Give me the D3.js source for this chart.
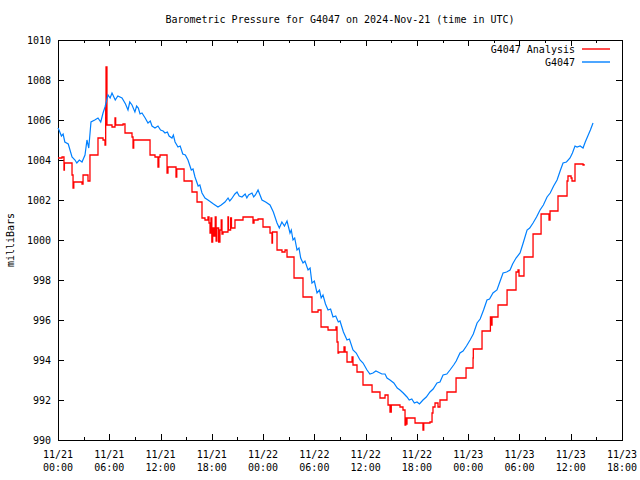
<!DOCTYPE html>
<html>
<head>
  <meta charset="utf-8">
  <script src="https://d3js.org/d3.v7.min.js"></script>
  <style>
    body { margin: 0; background: #fff; }
    text { font-family: "DejaVu Sans Mono", monospace; font-size: 10px; fill: #000; }
  </style>
</head>
<body>
<script>
// [hours since 2024-11-21 00:00 UTC, pressure in mb]
var bluePoints = [
  [0, 1005.6], [0.12, 1005.5], [0.4, 1005.2], [0.6, 1005.3], [0.8, 1004.9], [1.2, 1004.8], [1.64, 1004.15], [1.99, 1004.0],
  [2.2, 1003.85], [2.5, 1004.0], [2.81, 1003.9], [3.16, 1004.25], [3.39, 1005.0], [3.6, 1004.6], [3.86, 1005.9], [4.3, 1006.0],
  [4.68, 1006.1], [5.0, 1005.9], [5.27, 1006.35], [5.5, 1006.65], [5.85, 1007.25], [6.1, 1007.1], [6.32, 1007.35], [6.7, 1007.0],
  [7.0, 1007.2], [7.49, 1007.1], [7.9, 1006.8], [8.19, 1006.5], [8.4, 1006.9], [8.66, 1006.75], [9.0, 1006.4], [9.2, 1006.7],
  [9.4, 1006.6], [9.6, 1006.3], [9.83, 1006.35], [10.2, 1006.1], [10.53, 1005.85], [10.8, 1005.95], [11.0, 1005.7], [11.35, 1005.6],
  [11.7, 1005.7], [12.0, 1005.5], [12.3, 1005.45], [12.52, 1005.35], [12.8, 1005.4], [13.0, 1005.2], [13.34, 1005.1], [13.5, 1005.25],
  [13.7, 1004.9], [14.04, 1004.65], [14.3, 1004.7], [14.6, 1004.3], [14.9, 1004.25], [15.21, 1004.0], [15.6, 1003.5], [15.8, 1003.55],
  [16.03, 1003.15], [16.4, 1002.7], [16.6, 1002.75], [16.85, 1002.35], [17.2, 1002.1], [17.55, 1002.0], [18.2, 1001.8], [18.72, 1001.65],
  [19.1, 1001.75], [19.54, 1001.9], [19.9, 1002.1], [20.1, 1001.95], [20.3, 1002.05], [20.7, 1002.3], [20.95, 1002.4], [21.2, 1002.2],
  [21.53, 1002.15], [21.9, 1002.3], [22.1, 1002.1], [22.3, 1002.25], [22.7, 1002.35], [22.9, 1002.15], [23.1, 1002.25], [23.41, 1002.5],
  [23.87, 1002.0], [24.3, 1001.9], [24.81, 1001.75], [25.2, 1001.4], [25.63, 1000.85], [25.9, 1000.6], [26.2, 1000.9], [26.5, 1000.7],
  [26.8, 1000.95], [27.15, 1000.35], [27.3, 1000.5], [27.5, 1000.0], [27.7, 1000.1], [27.97, 999.5], [28.2, 999.6], [28.4, 999.1],
  [28.67, 998.85], [28.9, 998.95], [29.26, 998.5], [29.5, 998.6], [29.72, 997.85], [30.0, 997.95], [30.31, 997.35], [30.6, 997.5],
  [30.8, 997.1], [31.01, 997.25], [31.3, 996.8], [31.6, 996.5], [31.9, 996.55], [32.18, 996.15], [32.5, 996.2], [32.8, 995.9],
  [33.0, 995.95], [33.4, 995.4], [33.82, 995.0], [34.1, 995.05], [34.52, 994.5], [34.9, 994.35], [35.34, 994.0], [35.7, 993.85],
  [36.16, 993.5], [36.5, 993.3], [36.86, 993.35], [37.2, 993.45], [37.45, 993.4], [37.9, 993.3], [38.27, 993.3], [38.5, 993.1],
  [38.85, 993.0], [39.3, 992.85], [39.7, 992.6], [40.02, 992.5], [40.4, 992.35], [40.84, 992.15], [41.1, 992.0], [41.4, 992.05],
  [41.7, 991.85], [42.01, 991.9], [42.3, 991.8], [42.71, 992.0], [43.1, 992.15], [43.53, 992.4], [43.9, 992.55], [44.35, 992.85],
  [44.7, 992.9], [45.06, 993.25], [45.5, 993.3], [45.87, 993.5], [46.3, 993.75], [46.6, 993.95], [47.04, 994.35], [47.4, 994.45],
  [47.8, 994.7], [48.22, 995.0], [48.6, 995.3], [49.04, 995.85], [49.4, 996.05], [49.8, 996.5], [50.2, 997.0], [50.5, 997.05],
  [50.9, 997.35], [51.37, 997.5], [51.7, 997.9], [52.08, 998.35], [52.5, 998.4], [52.9, 998.5], [53.2, 998.8], [53.6, 999.1],
  [54.07, 999.35], [54.4, 999.8], [54.89, 1000.5], [55.2, 1000.6], [55.59, 1000.85], [56.0, 1001.15], [56.41, 1001.5], [56.8, 1001.75],
  [57.23, 1002.15], [57.6, 1002.35], [58.0, 1002.7], [58.4, 1003.0], [58.8, 1003.5], [59.1, 1003.85], [59.5, 1003.9], [59.92, 1004.1],
  [60.2, 1004.35], [60.5, 1004.7], [60.74, 1004.65], [61.1, 1004.7], [61.44, 1004.6], [61.7, 1004.9], [62.0, 1005.2], [62.3, 1005.5],
  [62.61, 1005.85]
];

var redPoints = [
  [0, 1004.1], [0.47, 1004.15], [0.7, 1003.5], [0.75, 1003.85], [1.64, 1003.25], [1.76, 1002.6], [1.85, 1002.9], [2.81, 1002.8],
  [2.93, 1003.25], [3.51, 1002.95], [3.74, 1004.25], [4.68, 1005.1], [5.27, 1005.0], [5.5, 1004.75], [5.58, 1006.65], [5.62, 1008.65],
  [5.73, 1005.75], [6.32, 1005.65], [6.67, 1006.1], [6.75, 1005.75], [7.61, 1005.8], [7.84, 1005.35], [8.66, 1005.15], [8.78, 1004.6],
  [8.86, 1005.0], [10.77, 1004.25], [11.35, 1004.15], [11.7, 1003.65], [11.8, 1004.15], [11.94, 1004.25], [12.76, 1003.35], [12.87, 1003.65],
  [13.81, 1003.15], [13.9, 1003.55], [14.75, 1002.95], [15.68, 1002.4], [16.27, 1001.9], [16.85, 1001.1], [17.2, 1001.0], [17.55, 1001.15],
  [17.67, 1000.85], [17.79, 1000.35], [17.9, 1001.1], [18.0, 999.9], [18.1, 1000.6], [18.25, 1000.2], [18.4, 1001.15], [18.5, 999.95],
  [18.6, 1000.6], [18.8, 999.9], [18.95, 1000.5], [19.1, 1001.0], [19.19, 1000.3], [19.31, 1000.4], [19.89, 1001.15], [19.95, 1000.5],
  [20.2, 1001.1], [20.3, 1000.6], [20.71, 1001.0], [21.65, 1001.15], [22.82, 1000.85], [22.94, 1001.0], [23.41, 1001.05], [23.99, 1000.65],
  [24.81, 1000.35], [25.04, 999.85], [25.1, 1000.4], [25.63, 999.5], [26.21, 999.4], [26.57, 999.5], [26.8, 999.15], [27.62, 998.1],
  [28.67, 997.15], [29.72, 996.4], [30.43, 996.5], [30.78, 995.65], [31.6, 995.5], [32.53, 995.65], [32.65, 994.9], [32.77, 994.35],
  [32.85, 994.4], [33.47, 994.65], [33.59, 994.4], [33.82, 993.9], [34.41, 994.15], [34.52, 993.75], [34.99, 993.4], [35.69, 992.75],
  [36.75, 992.4], [37.68, 992.1], [38.27, 992.25], [38.62, 991.75], [38.85, 991.4], [39.0, 991.75], [40.02, 991.65], [40.37, 991.5],
  [40.61, 990.75], [40.7, 991.1], [40.75, 990.8], [40.84, 991.1], [41.78, 990.85], [42.71, 990.5], [42.8, 990.85], [43.53, 990.9],
  [43.77, 991.35], [43.88, 991.65], [44.12, 991.85], [44.47, 991.65], [44.7, 992.0], [45.52, 992.4], [46.58, 993.1], [47.75, 993.6],
  [48.57, 994.1], [48.6, 994.55], [49.62, 995.45], [50.6, 996.15], [50.67, 995.75], [50.79, 996.15], [51.49, 996.75], [52.55, 997.5],
  [53.6, 998.4], [53.83, 998.5], [53.95, 998.2], [54.53, 999.15], [55.59, 1000.3], [56.53, 1001.3], [57.46, 1001.0], [57.58, 1001.45],
  [58.51, 1002.2], [59.57, 1002.95], [59.68, 1003.2], [60.04, 1003.1], [60.15, 1002.95], [60.5, 1003.8], [61.44, 1003.75], [61.56, 1003.8]
];

var yTicks = [990, 992, 994, 996, 998, 1000, 1002, 1004, 1006, 1008, 1010];
var seriesNames = ["G4047 Analysis", "G4047"];
var seriesColors = ["#ff0000", "#0080ff"];

var t0 = Date.UTC(2024, 10, 21, 0);
function hr(h) { return new Date(t0 + h * 3600e3); }

var W = 640, H = 480;
var padL = 58, padR = 622, padT = 40, padB = 440;

var svg = d3.select("body").append("svg").attr("width", W).attr("height", H);

var x = d3.scaleUtc().domain([hr(0), hr(66)]).range([padL, padR]);
var y = d3.scaleLinear().domain([990, 1010]).range([padB, padT]);

var majorX = d3.utcHour.every(6).range(hr(0), hr(66.01));
var minorX = d3.utcHour.every(3).range(hr(0), hr(66.01)).filter(function(d) { return d.getUTCHours() % 6 != 0; });

svg.append("text").attr("x", 340).attr("y", 23).attr("text-anchor", "middle")
  .text("Barometric Pressure for G4047 on 2024-Nov-21 (time in UTC)");

svg.append("text").attr("transform", "translate(14,240) rotate(-90)").attr("text-anchor", "middle")
  .text("milliBars");

// axes, ticks pointing inward and mirrored
function styleAxis(g) {
  g.select(".domain").remove();
  g.selectAll("line").attr("stroke", "#000").attr("shape-rendering", "crispEdges");
}
svg.append("g").attr("transform", "translate(0," + padB + ")")
  .call(d3.axisBottom(x).tickValues(majorX).tickSize(-6).tickFormat(""))
  .call(styleAxis);
svg.append("g").attr("transform", "translate(0," + padB + ")")
  .call(d3.axisBottom(x).tickValues(minorX).tickSize(-3).tickFormat(""))
  .call(styleAxis);
svg.append("g").attr("transform", "translate(0," + padT + ")")
  .call(d3.axisTop(x).tickValues(majorX).tickSize(-6).tickFormat(""))
  .call(styleAxis);
svg.append("g").attr("transform", "translate(0," + padT + ")")
  .call(d3.axisTop(x).tickValues(minorX).tickSize(-3).tickFormat(""))
  .call(styleAxis);
svg.append("g").attr("transform", "translate(" + padL + ",0)")
  .call(d3.axisLeft(y).tickValues(yTicks).tickSize(-6).tickFormat(""))
  .call(styleAxis);
svg.append("g").attr("transform", "translate(" + padR + ",0)")
  .call(d3.axisRight(y).tickValues(yTicks).tickSize(-6).tickFormat(""))
  .call(styleAxis);

// tick labels
svg.selectAll(".ylab").data(yTicks).enter().append("text")
  .attr("x", padL - 7).attr("y", function(d) { return y(d) + 4; })
  .attr("text-anchor", "end").text(function(d) { return d; });

var fmtD = d3.utcFormat("%m/%d"), fmtT = d3.utcFormat("%H:%M");
var xl = svg.selectAll(".xlab").data(majorX).enter().append("text")
  .attr("text-anchor", "middle");
xl.append("tspan").attr("x", function(d) { return x(d); }).attr("y", padB + 18).text(fmtD);
xl.append("tspan").attr("x", function(d) { return x(d); }).attr("y", padB + 31).text(fmtT);

svg.append("rect").attr("x", padL).attr("y", padT).attr("width", padR - padL).attr("height", padB - padT)
  .attr("fill", "none").attr("stroke", "#000").attr("shape-rendering", "crispEdges");

// data
var redLine = d3.line().curve(d3.curveStepAfter)
  .x(function(d) { return x(hr(d[0])); })
  .y(function(d) { return y(d[1]); });
var blueLine = d3.line()
  .x(function(d) { return x(hr(d[0])); })
  .y(function(d) { return y(d[1]); });

svg.append("path").attr("d", redLine(redPoints)).attr("fill", "none")
  .attr("stroke", seriesColors[0]).attr("stroke-width", 1.3);
svg.append("path").attr("d", blueLine(bluePoints)).attr("fill", "none")
  .attr("stroke", seriesColors[1]).attr("stroke-width", 1.2);

// legend
seriesNames.forEach(function(name, i) {
  var ly = 49 + i * 13;
  svg.append("text").attr("x", 575).attr("y", ly + 4).attr("text-anchor", "end").text(name);
  svg.append("line").attr("x1", 582).attr("x2", 610).attr("y1", ly).attr("y2", ly)
    .attr("stroke", seriesColors[i]).attr("stroke-width", 1.4);
});
</script>
</body>
</html>
